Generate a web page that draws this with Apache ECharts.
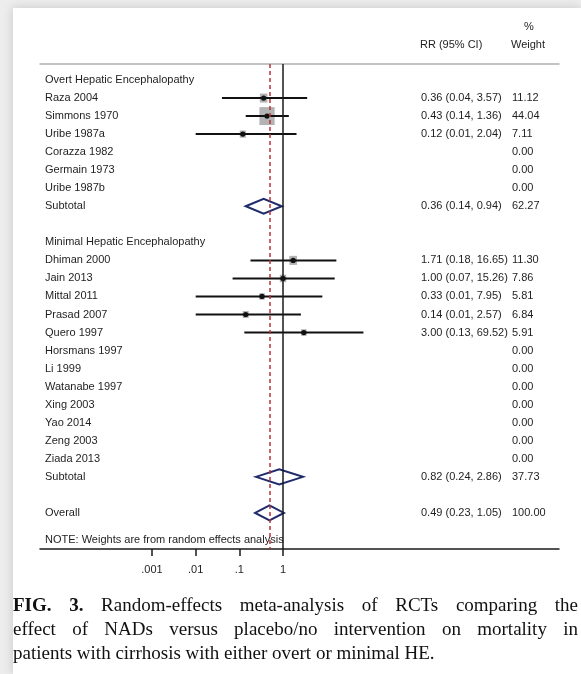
<!DOCTYPE html>
<html><head><meta charset="utf-8">
<script src="https://cdn.jsdelivr.net/npm/echarts@6/dist/echarts.min.js"></script>
<style>
html,body{margin:0;padding:0;width:581px;height:674px;overflow:hidden;background:#ededed;}
#panel{position:absolute;left:13px;top:8px;right:0;bottom:0;background:#fff;box-shadow:0 0 10px rgba(0,0,0,0.16);}
#chart{position:absolute;left:0;top:0;width:581px;height:674px;}
#caption{position:absolute;left:13px;top:593px;width:565px;font-family:'Liberation Serif','Times New Roman',serif;font-size:19px;line-height:24px;color:#111;}
#caption .j{text-align:justify;text-align-last:justify;}
#caption .l{text-align:left;}
</style></head>
<body>
<div id="panel"></div>
<div id="chart"></div>
<div id="caption">
<div class="j"><b>FIG. 3.</b> Random-effects meta-analysis of RCTs comparing the</div>
<div class="j">effect of NADs versus placebo/no intervention on mortality in</div>
<div class="l">patients with cirrhosis with either overt or minimal HE.</div>
</div>
<script>
// ---- data ----
const overtHeader = 'Overt Hepatic Encephalopathy';
const overtStudies = ['Raza 2004','Simmons 1970','Uribe 1987a','Corazza 1982','Germain 1973','Uribe 1987b'];
const overtRR = [0.36, 0.43, 0.12, null, null, null];
const overtLo = [0.04, 0.14, 0.01, null, null, null];
const overtHi = [3.57, 1.36, 2.04, null, null, null];
const overtWeight = [11.12, 44.04, 7.11, 0.00, 0.00, 0.00];
const overtSubtotal = [0.36, 0.14, 0.94, 62.27]; // rr, lo, hi, weight

const minimalHeader = 'Minimal Hepatic Encephalopathy';
const minimalStudies = ['Dhiman 2000','Jain 2013','Mittal 2011','Prasad 2007','Quero 1997','Horsmans 1997','Li 1999','Watanabe 1997','Xing 2003','Yao 2014','Zeng 2003','Ziada 2013'];
const minimalRR = [1.71, 1.00, 0.33, 0.14, 3.00, null, null, null, null, null, null, null];
const minimalLo = [0.18, 0.07, 0.01, 0.01, 0.13, null, null, null, null, null, null, null];
const minimalHi = [16.65, 15.26, 7.95, 2.57, 69.52, null, null, null, null, null, null, null];
const minimalWeight = [11.30, 7.86, 5.81, 6.84, 5.91, 0.00, 0.00, 0.00, 0.00, 0.00, 0.00, 0.00];
const minimalSubtotal = [0.82, 0.24, 2.86, 37.73];

const overall = [0.49, 0.23, 1.05, 100.00];
const noteText = 'NOTE: Weights are from random effects analysis';

const tickValues = [0.001, 0.01, 0.1, 1];
const tickLabels = ['.001', '.01', '.1', '1'];

// ---- build rows ----
const L = Math.log10;
const FONT = "'Liberation Sans', Arial, Helvetica, sans-serif";
const leftMap = {}, ciMap = {}, wMap = {};
const studyData = [], diamondData = [];
const fmtCI = (a, b, c) => a.toFixed(2) + ' (' + b.toFixed(2) + ', ' + c.toFixed(2) + ')';
let r = 0;
function addGroup(header, names, rr, lo, hi, wt, sub) {
  leftMap[r] = header; r++;
  names.forEach((n, i) => {
    leftMap[r] = n;
    wMap[r] = wt[i].toFixed(2);
    if (rr[i] != null) {
      ciMap[r] = fmtCI(rr[i], lo[i], hi[i]);
      studyData.push([L(rr[i]), r, L(lo[i]), L(hi[i]), wt[i]]);
    }
    r++;
  });
  leftMap[r] = 'Subtotal';
  ciMap[r] = fmtCI(sub[0], sub[1], sub[2]);
  wMap[r] = sub[3].toFixed(2);
  diamondData.push([L(sub[0]), r, L(sub[1]), L(sub[2])]);
  r++;
  r++; // blank row
}
addGroup(overtHeader, overtStudies, overtRR, overtLo, overtHi, overtWeight, overtSubtotal);
addGroup(minimalHeader, minimalStudies, minimalRR, minimalLo, minimalHi, minimalWeight, minimalSubtotal);
leftMap[r] = 'Overall';
ciMap[r] = fmtCI(overall[0], overall[1], overall[2]);
wMap[r] = overall[3].toFixed(2);
diamondData.push([L(overall[0]), r, L(overall[1]), L(overall[2])]);
const noteRow = r + 1.5;
leftMap[noteRow] = noteText;

const keys = m => Object.keys(m).map(Number);
const tickLogs = tickValues.map(L);
const tickFmt = v => {
  let best = 0;
  tickLogs.forEach((t, i) => { if (Math.abs(t - v) < Math.abs(tickLogs[best] - v)) best = i; });
  return tickLabels[best];
};

const xMin = -5.565, xMax = 6.32;
const yMin = -0.887, yMax = 26.0;
const txt = {color: '#1e1e1e', fontSize: 11, fontFamily: FONT};

const chart = echarts.init(document.getElementById('chart'), null, {renderer: 'canvas'});
chart.setOption({
  animation: false,
  backgroundColor: 'transparent',
  title: [
    {text: 'RR (95% CI)', left: 420, top: 39, padding: 0, textStyle: Object.assign({fontWeight: 'normal'}, txt)},
    {text: '%', left: 524, top: 21, padding: 0, textStyle: Object.assign({fontWeight: 'normal'}, txt)},
    {text: 'Weight', left: 511, top: 39, padding: 0, textStyle: Object.assign({fontWeight: 'normal'}, txt)}
  ],
  grid: {left: 40, right: 22, top: 64, bottom: 125},
  xAxis: [
    {type: 'value', position: 'bottom', min: xMin, max: xMax,
      axisLine: {show: true, onZero: false, lineStyle: {color: '#1a1a1a', width: 1.5}},
      axisTick: {show: true, customValues: tickLogs, length: 7, lineStyle: {color: '#1a1a1a', width: 1.5}},
      axisLabel: Object.assign({show: true, customValues: tickLogs, formatter: tickFmt, margin: 15}, txt),
      splitLine: {show: false}},
    {type: 'value', position: 'top', min: xMin, max: xMax,
      axisLine: {show: true, onZero: false, lineStyle: {color: '#b0b0b0', width: 1.5}},
      axisTick: {show: false}, axisLabel: {show: false}, splitLine: {show: false}}
  ],
  yAxis: [
    {type: 'value', position: 'left', inverse: true, min: yMin, max: yMax,
      axisLine: {show: false, onZero: false}, axisTick: {show: false}, splitLine: {show: false},
      axisLabel: Object.assign({customValues: keys(leftMap), formatter: v => leftMap[v] || '', align: 'left', margin: -5}, txt)},
    {type: 'value', position: 'right', offset: -138, inverse: true, min: yMin, max: yMax,
      axisLine: {show: false, onZero: false}, axisTick: {show: false}, splitLine: {show: false},
      axisLabel: Object.assign({customValues: keys(ciMap), formatter: v => ciMap[v] || '', align: 'left', margin: 0}, txt)},
    {type: 'value', position: 'right', offset: -47, inverse: true, min: yMin, max: yMax,
      axisLine: {show: false, onZero: false}, axisTick: {show: false}, splitLine: {show: false},
      axisLabel: Object.assign({customValues: keys(wMap), formatter: v => wMap[v] || '', align: 'left', margin: 0}, txt)}
  ],
  series: [
    {
      type: 'custom', name: 'studies', xAxisIndex: 0, yAxisIndex: 0,
      data: studyData,
      encode: {x: [0, 2, 3], y: 1},
      renderItem: function (params, api) {
        const y = api.value(1);
        const c = api.coord([api.value(0), y]);
        const a = api.coord([api.value(2), y]);
        const b = api.coord([api.value(3), y]);
        const h = 2.7 * Math.sqrt(api.value(4));
        const w = h * 0.85;
        return {type: 'group', children: [
          {type: 'rect', shape: {x: c[0] - w / 2, y: c[1] - h / 2, width: w, height: h}, style: {fill: '#b3b3b3'}},
          {type: 'line', shape: {x1: a[0], y1: a[1], x2: b[0], y2: b[1]}, style: {stroke: '#111', lineWidth: 2}},
          {type: 'circle', shape: {cx: c[0], cy: c[1], r: 2.6}, style: {fill: '#111'}}
        ]};
      }
    },
    {
      type: 'custom', name: 'pooled', xAxisIndex: 0, yAxisIndex: 0,
      data: diamondData,
      encode: {x: [0, 2, 3], y: 1},
      renderItem: function (params, api) {
        const y = api.value(1);
        const c = api.coord([api.value(0), y]);
        const a = api.coord([api.value(2), y]);
        const b = api.coord([api.value(3), y]);
        const hh = 7.5;
        return {type: 'polygon', shape: {points: [[a[0], a[1]], [c[0], c[1] - hh], [b[0], b[1]], [c[0], c[1] + hh]]},
          style: {fill: 'none', stroke: '#1f2b6b', lineWidth: 2}};
      },
      markLine: {
        silent: true, symbol: ['none', 'none'], label: {show: false},
        data: [
          {xAxis: 0, lineStyle: {color: '#1a1a1a', type: 'solid', width: 1.5}},
          {xAxis: L(overall[0]), lineStyle: {color: '#b8323a', type: [4, 3], width: 1.5}}
        ]
      }
    }
  ]
});
</script>
</body></html>
